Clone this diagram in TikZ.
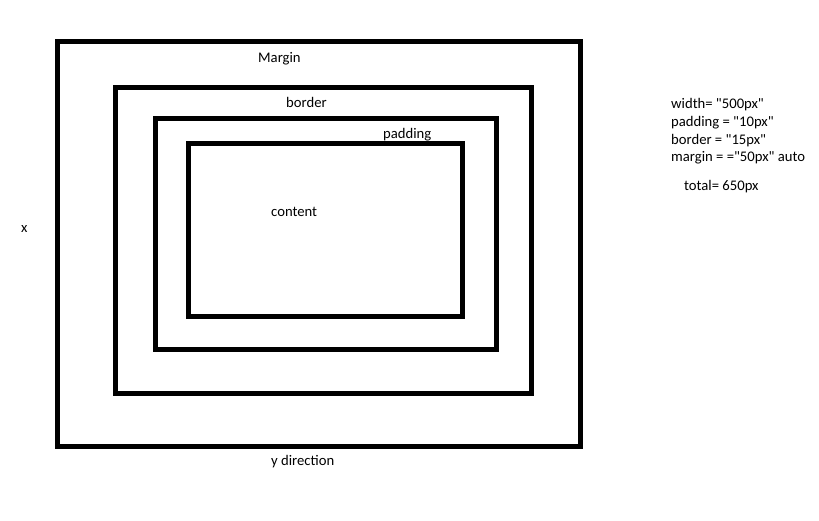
\documentclass[tikz,border=0pt]{standalone}
\usepackage{fontspec}
\setmainfont{Carlito}[Ligatures=TeXOff]
\begin{document}
\begin{tikzpicture}[x=1pt,y=-1pt,
  box/.style={draw=black,line width=5pt},
  lbl/.style={anchor=base west,inner sep=0pt,font=\fontsize{14.67}{18}\selectfont}]
\useasboundingbox (0,0) rectangle (819,520);
\draw[box] (57.5,41.5) rectangle (580.5,446.5);
\draw[box] (115.5,87.5) rectangle (531.5,393);
\draw[box] (155.5,118) rectangle (496.5,349);
\draw[box] (188.5,143) rectangle (462.5,316.5);
\node[lbl] (margin) at (258,62) {Margin};
\node[lbl] (border) at (286,107.7) {border};
\node[lbl] (padding) at (383,138) {padding};
\node[lbl] (content) at (271,216) {content};
\node[lbl] (x) at (21,232) {x};
\node[lbl] (ydir) at (271,465) {y direction};
\node[lbl] (w) at (671,108.3) {width= "500px"};
\node[lbl] (p) at (671,126.5) {padding = "10px"};
\node[lbl] (b) at (671,144.3) {border = "15px"};
\node[lbl] (m) at (671,161.7) {margin = ="50px" auto};
\node[lbl] (t) at (684,190) {total= 650px};
\end{tikzpicture}
\end{document}
